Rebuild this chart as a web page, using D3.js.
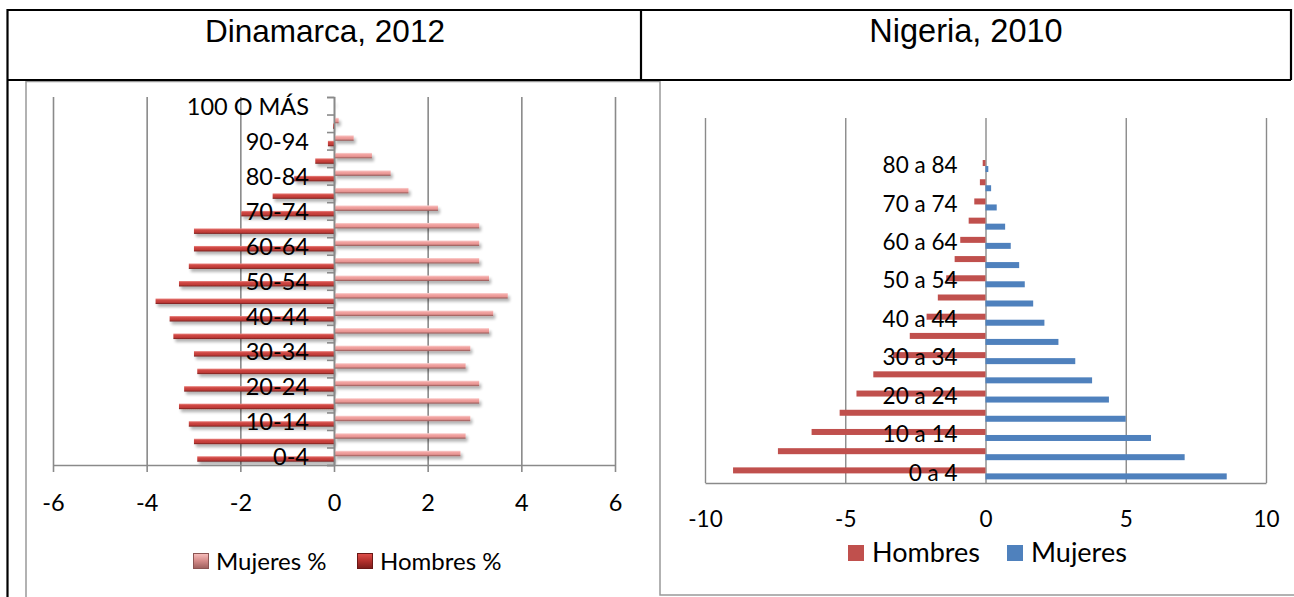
<!DOCTYPE html>
<html>
<head>
<meta charset="utf-8">
<script src="https://cdn.jsdelivr.net/npm/d3@7"></script>
<style>
    body { margin: 0; background: #ffffff; }
    svg text { font-family: Lato, "Open Sans", sans-serif; fill: #000000; }
    svg text.title { font-family: "Liberation Sans", Arial, sans-serif; }
</style>
</head>
<body>
<div id="dataviz"></div>
<script>
"use strict";

// ------------------------- Dinamarca, 2012 (%) -------------------------
var denmarkAges = ["0-4", "5-9", "10-14", "15-19", "20-24", "25-29", "30-34",
    "35-39", "40-44", "45-49", "50-54", "55-59", "60-64", "65-69", "70-74",
    "75-79", "80-84", "85-89", "90-94", "95-99", "100 O MÁS"];
var denmarkMujeres = [2.70, 2.81, 2.91, 3.10, 3.10, 2.81, 2.91, 3.31, 3.40, 3.71,
    3.31, 3.10, 3.10, 3.10, 2.22, 1.59, 1.21, 0.81, 0.42, 0.10, 0.01];
var denmarkHombres = [-2.92, -2.99, -3.10, -3.31, -3.20, -2.92, -2.99, -3.43, -3.51, -3.81,
    -3.31, -3.10, -2.99, -2.99, -1.98, -1.31, -0.85, -0.40, -0.13, -0.02, 0];
var denmarkTicks = [-6, -4, -2, 0, 2, 4, 6];

// -------------------------- Nigeria, 2010 (%) --------------------------
var nigeriaAges = ["0 a 4", "5 a 9", "10 a 14", "15 a 19", "20 a 24", "25 a 29",
    "30 a 34", "35 a 39", "40 a 44", "45 a 49", "50 a 54", "55 a 59", "60 a 64",
    "65 a 69", "70 a 74", "75 a 79", "80 a 84"];
var nigeriaHombres = [-9.0, -7.4, -6.2, -5.2, -4.6, -4.0, -3.3, -2.7, -2.1,
    -1.7, -1.4, -1.1, -0.9, -0.6, -0.4, -0.2, -0.1];
var nigeriaMujeres = [8.6, 7.1, 5.9, 5.0, 4.4, 3.8, 3.2, 2.6, 2.1,
    1.7, 1.4, 1.2, 0.9, 0.7, 0.4, 0.2, 0.1];
var nigeriaTicks = [-10, -5, 0, 5, 10];

var W = 1294, H = 597;
var gridColor = "#8a8a8a";

var svg = d3.select("#dataviz").append("svg")
    .attr("width", W)
    .attr("height", H);

// -----------------------------------------------------------------------
// ---------------------------- Definitions ------------------------------
// -----------------------------------------------------------------------
var defs = svg.append("defs");

function vGradient(id, stops) {
    var lg = defs.append("linearGradient").attr("id", id)
        .attr("x1", 0).attr("y1", 0).attr("x2", 0).attr("y2", 1);
    stops.forEach(function (s) {
        lg.append("stop").attr("offset", s[0]).attr("stop-color", s[1]);
    });
}
vGradient("gradHombres", [[0, "#ec8a86"], [0.3, "#cf4844"], [0.7, "#c03b37"], [1, "#6f1f1d"]]);
vGradient("gradMujeres", [[0, "#fbd2d1"], [0.3, "#f2a4a2"], [0.65, "#e89593"], [1, "#8e5452"]]);
vGradient("iconHombres", [[0, "#e0504c"], [0.5, "#b3302c"], [1, "#7a1c1a"]]);
vGradient("iconMujeres", [[0, "#f8c0be"], [0.5, "#d48a88"], [1, "#9c5f5d"]]);

var shadow = defs.append("filter").attr("id", "shadow")
    .attr("x", "-10%").attr("y", "-60%").attr("width", "130%").attr("height", "260%");
shadow.append("feGaussianBlur").attr("in", "SourceAlpha").attr("stdDeviation", 1.8).attr("result", "blur");
shadow.append("feOffset").attr("in", "blur").attr("dx", 2).attr("dy", 3).attr("result", "off");
shadow.append("feComponentTransfer").attr("in", "off").attr("result", "soft")
    .append("feFuncA").attr("type", "linear").attr("slope", 0.3);
var merge = shadow.append("feMerge");
merge.append("feMergeNode").attr("in", "soft");
merge.append("feMergeNode").attr("in", "SourceGraphic");

// -----------------------------------------------------------------------
// ------------------------- Table and frames ----------------------------
// -----------------------------------------------------------------------
var frame = svg.append("g").attr("fill", "none");

// chart areas (gray)
frame.append("path").attr("d", "M26,597V81.5H660").attr("stroke", "#999999").attr("stroke-width", 1.5);
frame.append("path").attr("d", "M660,81V595H1294").attr("stroke", "#999999").attr("stroke-width", 1.5);

// table (black)
frame.append("path")
    .attr("d", "M7.5,597V10H1291V80M7.5,80H1291M641,10V80")
    .attr("stroke", "#000000").attr("stroke-width", 2.2);

svg.append("text").attr("class", "title")
    .attr("x", 325).attr("y", 42)
    .attr("text-anchor", "middle").attr("font-size", 31.5)
    .text("Dinamarca, 2012");

svg.append("text").attr("class", "title")
    .attr("x", 966).attr("y", 42)
    .attr("text-anchor", "middle").attr("font-size", 32.5)
    .text("Nigeria, 2010");

// -----------------------------------------------------------------------
// ----------------------------- Pyramid ---------------------------------
// -----------------------------------------------------------------------
function drawPyramid(c) {

    var x = d3.scaleLinear().domain(d3.extent(c.ticks)).range([c.left, c.right]);
    var rowIds = d3.range(c.rows);
    var y = d3.scaleBand().domain(rowIds).range([c.bottom, c.top]);
    var yEdges = d3.scaleLinear().domain([0, c.rows]).range([c.bottom, c.top]);
    var inner = d3.scaleBand().domain(c.order).range([0, y.bandwidth()]).paddingOuter(0.6);

    var g = svg.append("g");

    // gridlines
    g.append("g")
        .attr("transform", "translate(0," + c.bottom + ")")
        .call(d3.axisBottom(x).tickValues(c.ticks).tickSize(-(c.bottom - c.top)).tickFormat(""))
        .call(function (s) { s.select(".domain").remove(); })
        .selectAll("line")
        .attr("stroke", gridColor)
        .attr("stroke-width", c.gridWidth);

    // bars
    var data = c.ages.map(function (a, i) {
        return { i: i, age: a, Mujeres: c.mujeres[i], Hombres: c.hombres[i] };
    });

    var barsGroup = g.append("g").attr("filter", c.shadow ? "url(#shadow)" : null);
    c.order.forEach(function (key) {
        barsGroup.append("g").selectAll("rect")
            .data(data)
            .join("rect")
            .attr("x", function (d) { return x(Math.min(0, d[key])); })
            .attr("width", function (d) { return Math.abs(x(d[key]) - x(0)); })
            .attr("y", function (d) { return y(d.i) + inner(key); })
            .attr("height", inner.bandwidth())
            .attr("fill", c.fills[key]);
    });

    // value axis (plain hyphen for negatives, as in the original)
    var xAxis = g.append("g")
        .attr("transform", "translate(0," + c.bottom + ")")
        .call(d3.axisBottom(x).tickValues(c.ticks)
            .tickFormat(function (d) { return String(d); })
            .tickSizeInner(c.valueTickLen).tickSizeOuter(0).tickPadding(c.valuePad));
    xAxis.select(".domain").attr("stroke", gridColor).attr("stroke-width", c.gridWidth);
    xAxis.selectAll("line").attr("stroke", gridColor).attr("stroke-width", c.gridWidth);
    xAxis.selectAll("text").attr("font-size", c.valueFont).style("font-family", "Lato, sans-serif");

    // category axis (ticks between categories)
    if (c.catTickLen > 0) {
        var cAxis = g.append("g")
            .attr("transform", "translate(" + x(0) + ",0)")
            .call(d3.axisLeft(yEdges).tickValues(d3.range(c.rows + 1)).tickSize(c.catTickLen).tickFormat(""));
        cAxis.select(".domain").attr("stroke", gridColor).attr("stroke-width", c.gridWidth);
        cAxis.selectAll("line").attr("stroke", gridColor).attr("stroke-width", c.gridWidth);
    }

    // category labels, one of every two
    var yAxis = g.append("g")
        .attr("transform", "translate(" + x(0) + "," + c.labelShift + ")")
        .call(d3.axisLeft(y).tickSize(0).tickPadding(c.labelPad).tickFormat(function (i) {
            return (i % 2 === 0 && i < c.ages.length) ? c.ages[i] : "";
        }));
    yAxis.select(".domain").remove();
    yAxis.selectAll("text").attr("font-size", c.labelFont).style("font-family", "Lato, sans-serif");
}

drawPyramid({
    ages: denmarkAges, mujeres: denmarkMujeres, hombres: denmarkHombres,
    ticks: denmarkTicks, rows: denmarkAges.length,
    left: 53, right: 615, top: 97, bottom: 465,
    order: ["Mujeres", "Hombres"],
    fills: { Mujeres: "url(#gradMujeres)", Hombres: "url(#gradHombres)" },
    shadow: true, gridWidth: 1.6,
    valueTickLen: 7, valuePad: 22, valueFont: 23.5,
    catTickLen: 7, labelPad: 25, labelFont: 23.5, labelShift: 1.5
});

drawPyramid({
    ages: nigeriaAges, mujeres: nigeriaMujeres, hombres: nigeriaHombres,
    ticks: nigeriaTicks, rows: nigeriaAges.length + 2, // two empty rows on top
    left: 705, right: 1266, top: 118, bottom: 483,
    order: ["Hombres", "Mujeres"],
    fills: { Mujeres: "#4f81bd", Hombres: "#c0504d" },
    shadow: false, gridWidth: 1.4,
    valueTickLen: 0, valuePad: 28, valueFont: 22.5,
    catTickLen: 0, labelPad: 28, labelFont: 22.5, labelShift: 0
});

// -----------------------------------------------------------------------
// ------------------------------ Legends --------------------------------
// -----------------------------------------------------------------------
function legendItem(ix, iy, size, fill, stroke, label, tx, ty, fontSize) {
    svg.append("rect")
        .attr("x", ix).attr("y", iy).attr("width", size).attr("height", size)
        .attr("fill", fill)
        .attr("stroke", stroke).attr("stroke-width", stroke ? 1 : 0);
    svg.append("text")
        .attr("x", tx).attr("y", ty)
        .attr("font-size", fontSize)
        .text(label);
}

legendItem(193.5, 553.5, 15, "url(#iconMujeres)", "#8c5553", "Mujeres %", 216, 570, 24);
legendItem(357.5, 553.5, 15, "url(#iconHombres)", "#6a1816", "Hombres %", 380, 570, 24);

legendItem(848, 545, 16, "#c0504d", null, "Hombres", 872, 562, 27);
legendItem(1007, 545, 16, "#4f81bd", null, "Mujeres", 1031, 562, 27);
</script>
</body>
</html>
